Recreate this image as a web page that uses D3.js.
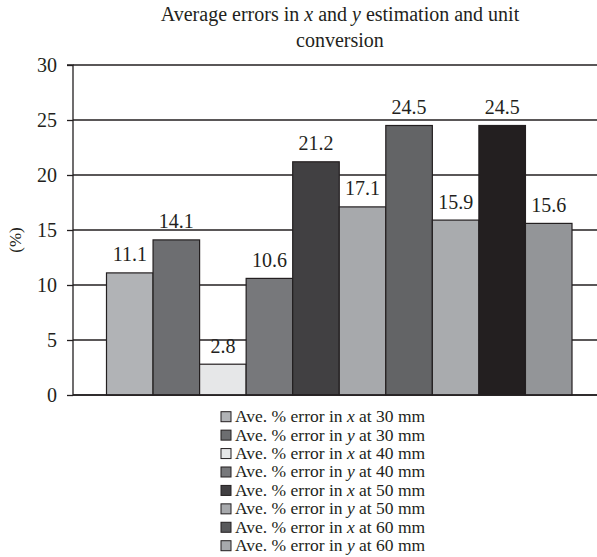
<!DOCTYPE html>
<html>
<head>
<meta charset="utf-8">
<script src="https://cdn.jsdelivr.net/npm/d3@7/dist/d3.min.js"></script>
<style>
html,body{margin:0;padding:0;background:#fff;}
svg{display:block;}
</style>
</head>
<body>
<svg id="chart" width="597" height="557"></svg>
<script>
// Data
const barKeys = ["b1","b2","b3","b4","b5","b6","b7","b8","b9","b10"];
const barValues = [11.1, 14.1, 2.8, 10.6, 21.2, 17.1, 24.5, 15.9, 24.5, 15.6];
const barColors = ["#b1b3b6","#6d6e71","#e6e7e8","#77787b","#414042","#a7a9ac","#636466","#a9abae","#231f20","#939598"];
const yTicks = [0, 5, 10, 15, 20, 25, 30];
const legendVars = ["x","y","x","y","x","y","x","y"];
const legendSizes = ["30","30","40","40","50","50","60","60"];
const legendColors = ["#b1b3b6","#6d6e71","#e6e7e8","#77787b","#414042","#a7a9ac","#58595b","#a7a9ac"];
const titleLines = [["Average errors in ", ["x"], " and ", ["y"], " estimation and unit"], ["conversion"]];

const FONT = "'Liberation Serif', 'Times New Roman', Times, 'DejaVu Serif', serif";
const svg = d3.select("#chart");
const dark = "#231f20";

const y = d3.scaleLinear().domain([0, 30]).range([395, 65]);
const x = d3.scaleBand().domain(barKeys).range([106.5, 572]).padding(0);
const plotLeft = 73, plotRight = 597;

// gridlines
svg.append("g").selectAll("line").data(yTicks).join("line")
  .attr("x1", plotLeft).attr("x2", plotRight)
  .attr("y1", d => y(d)).attr("y2", d => y(d))
  .attr("stroke", dark).attr("stroke-width", 1.3);

// y axis
const yAxis = d3.axisLeft(y).tickValues(yTicks).tickSize(6).tickPadding(10);
const gy = svg.append("g").attr("transform", `translate(${plotLeft},0)`).call(yAxis)
  .attr("font-family", null).attr("font-size", null);
gy.select(".domain").attr("stroke", dark).attr("stroke-width", 1.3).attr("d", `M-6,${y(30)}H0V${y(0)}`);
gy.selectAll(".tick line").attr("stroke", dark).attr("stroke-width", 1.3);
gy.selectAll(".tick text").attr("font-family", FONT).style("font-family", FONT).style("font-size", "20px").attr("fill", dark);

// bars
svg.append("g").selectAll("rect").data(barValues).join("rect")
  .attr("x", (d, i) => x(barKeys[i]))
  .attr("y", d => y(d))
  .attr("width", x.bandwidth())
  .attr("height", d => y(0) - y(d))
  .attr("fill", (d, i) => barColors[i])
  .attr("stroke", dark).attr("stroke-width", 1.2);

// baseline
svg.append("line").attr("x1", plotLeft).attr("x2", plotRight).attr("y1", y(0)).attr("y2", y(0))
  .attr("stroke", dark).attr("stroke-width", 1.5);

// value labels
svg.append("g").selectAll("text").data(barValues).join("text")
  .attr("x", (d, i) => x(barKeys[i]) + x.bandwidth() / 2)
  .attr("y", d => y(d) - 11.5)
  .attr("text-anchor", "middle")
  .attr("font-family", FONT).style("font-family", FONT)
  .attr("fill", dark)
  .style("font-size", "20px")
  .text(d => d.toFixed(1));

// y label
svg.append("text").attr("transform", "translate(21,240) rotate(-90)")
  .attr("font-family", FONT).style("font-family", FONT).attr("fill", dark)
  .attr("text-anchor", "middle").style("font-size", "17px").text("(%)");

// title
const title = svg.append("g");
titleLines.forEach((parts, li) => {
  const t = title.append("text").attr("x", 340).attr("y", 21 + li * 25.5)
    .attr("font-family", FONT).style("font-family", FONT).attr("fill", dark)
    .attr("text-anchor", "middle").style("font-size", "20px");
  parts.forEach(p => {
    if (Array.isArray(p)) t.append("tspan").style("font-style", "italic").text(p[0]);
    else t.append("tspan").text(p);
  });
});

// legend
const lg = svg.append("g");
const rows = lg.selectAll("g").data(legendVars).join("g")
  .attr("transform", (d, i) => `translate(221,${416.7 + i * 18.43})`);
rows.append("rect").attr("x", 0).attr("y", -5).attr("width", 10).attr("height", 10)
  .attr("fill", (d, i) => legendColors[i]).attr("stroke", dark).attr("stroke-width", 1);
const lt = rows.append("text").attr("x", 14).attr("y", 5.5)
  .attr("font-family", FONT).style("font-family", FONT).attr("fill", dark)
  .style("font-size", "17.5px");
lt.append("tspan").text("Ave. % error in ");
lt.append("tspan").style("font-style", "italic").text(d => d);
lt.append("tspan").text((d, i) => ` at ${legendSizes[i]} mm`);
</script>
</body>
</html>
